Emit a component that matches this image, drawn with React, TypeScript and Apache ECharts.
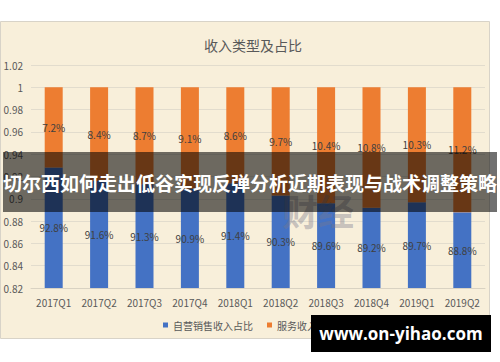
import React, { useEffect, useRef } from "react";
import * as echarts from "echarts";

const categories = ["2017Q1", "2017Q2", "2017Q3", "2017Q4", "2018Q1", "2018Q2", "2018Q3", "2018Q4", "2019Q1", "2019Q2"];
const selfSales = [0.928, 0.916, 0.913, 0.909, 0.914, 0.903, 0.896, 0.892, 0.897, 0.888];
const service = [0.072, 0.084, 0.087, 0.091, 0.086, 0.097, 0.104, 0.108, 0.103, 0.112];
const seriesNames = ["自营销售收入占比", "服务收入占比"];
const titleText = "收入类型及占比";
const bannerText = "切尔西如何走出低谷实现反弹分析近期表现与战术调整策略";
const siteText = "www.on-yihao.com";

export default function App() {
  const ref = useRef<HTMLDivElement>(null);
  useEffect(() => {
    if (!ref.current) return;
    const chart = echarts.init(ref.current, null, { renderer: "svg" });
    const font = "'Noto Sans CJK SC', 'Noto Sans', sans-serif";
    const labelStyle = {
      show: true,
      position: "inside" as const,
      color: "#404040",
      fontSize: 10,
      fontFamily: font,
      formatter: (p: any) => (p.value * 100).toFixed(1) + "%",
    };
    chart.setOption({
      animation: false,
      backgroundColor: "#ffffff",
      textStyle: { fontFamily: font },
      title: {
        text: titleText,
        left: 248,
        top: 33,
        textAlign: "center",
        textStyle: { fontSize: 14, fontWeight: "normal", color: "#595959", fontFamily: font },
      },
      legend: {
        data: seriesNames,
        left: "center",
        top: 315,
        itemWidth: 5,
        itemHeight: 5,
        itemGap: 14,
        icon: "rect",
        textStyle: { fontSize: 10, color: "#595959", fontFamily: font },
      },
      grid: { left: 31, right: 15, top: 65, bottom: 74, containLabel: false },
      xAxis: {
        type: "category",
        data: categories,
        axisLine: { lineStyle: { color: "#d9d2c2" } },
        axisTick: { show: false },
        axisLabel: { color: "#595959", fontSize: 10, margin: 9, interval: 0 },
      },
      yAxis: {
        type: "value",
        min: 0.82,
        max: 1.02,
        interval: 0.02,
        axisLine: { show: false },
        axisTick: { show: false },
        splitLine: { lineStyle: { color: "#e2dccd" } },
        axisLabel: {
          color: "#595959",
          fontSize: 10,
          margin: 8,
          formatter: (v: number) => String(Number(v.toFixed(2))),
        },
      },
      graphic: [
        {
          type: "rect",
          z: -10,
          silent: true,
          shape: { x: 0.5, y: 21.5, width: 489, height: 317 },
          style: { fill: "#f8efda", stroke: "#d8d3c8", lineWidth: 1 },
        },
        {
          type: "text",
          z: 50,
          silent: true,
          left: 282,
          top: 192,
          style: {
            text: "财经",
            font: "bold 36px 'Noto Sans CJK SC'",
            fill: "rgba(120,120,140,0.4)",
          },
        },
        {
          type: "rect",
          z: 100,
          silent: true,
          shape: { x: 3, y: 152, width: 494, height: 60 },
          style: { fill: "rgba(0,0,0,0.56)" },
        },
        {
          type: "text",
          z: 101,
          silent: true,
          x: 250,
          y: 182,
          style: {
            text: bannerText,
            font: "bold 19px 'Noto Sans CJK SC'",
            fill: "#ffffff",
            align: "center",
            verticalAlign: "middle",
          },
        },
        {
          type: "rect",
          z: 100,
          silent: true,
          shape: { x: 311, y: 315, width: 180, height: 37 },
          style: { fill: "#000000" },
        },
        {
          type: "text",
          z: 101,
          silent: true,
          x: 401,
          y: 333,
          style: {
            text: siteText,
            font: "bold 17px 'Open Sans', 'DejaVu Sans', sans-serif",
            fill: "#ffffff",
            align: "center",
            verticalAlign: "middle",
          },
        },
      ],
      series: [
        {
          name: seriesNames[0],
          type: "bar",
          stack: "total",
          data: selfSales,
          barWidth: 18,
          itemStyle: { color: "#4472c4" },
          label: labelStyle,
        },
        {
          name: seriesNames[1],
          type: "bar",
          stack: "total",
          data: service,
          barWidth: 18,
          itemStyle: { color: "#ed7d31" },
          label: labelStyle,
        },
      ],
    });
    return () => chart.dispose();
  }, []);
  return (
    <div style={{ position: "fixed", left: 0, top: 0, width: 500, height: 362 }}>
      <div ref={ref} style={{ width: 500, height: 362 }} />
    </div>
  );
}
